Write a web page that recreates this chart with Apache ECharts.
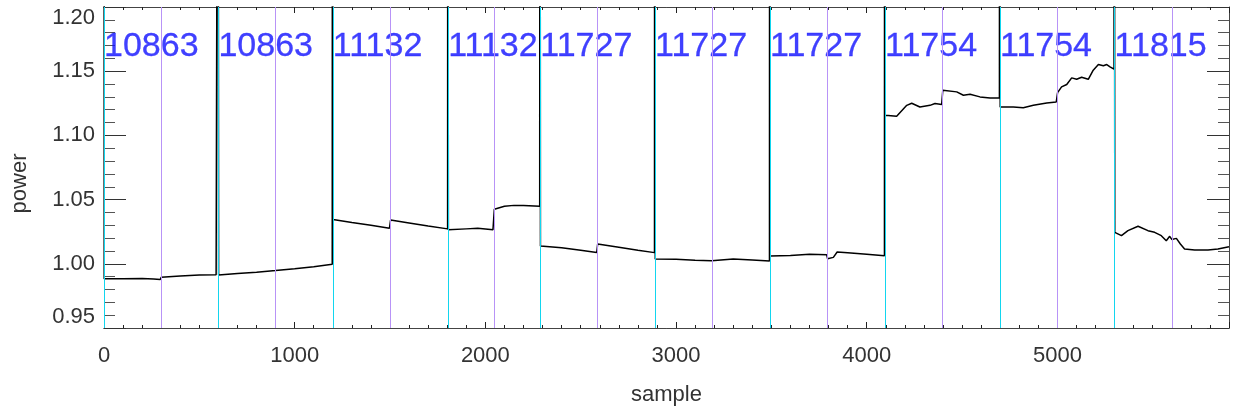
<!DOCTYPE html>
<html><head><meta charset="utf-8">
<script src="https://cdn.jsdelivr.net/npm/echarts@6/dist/echarts.min.js"></script>
<style>html,body{margin:0;padding:0;background:#fff}#c{width:1233px;height:415px}</style>
</head><body><div id="c"></div>
<script>
// off-scale value: the trace shoots above the plot at the start of each run
const OFF = 1.6;

const sampleIdx = [
  0, 1, 100, 200, 260, 295, 300, 400, 500, 588, 597,
  598, 601, 700, 800, 900, 1000, 1100, 1197,
  1198, 1201, 1300, 1400, 1497, 1503, 1600, 1700, 1802,
  1803, 1806, 1900, 1960, 2040, 2047, 2100, 2150, 2200, 2285,
  2286, 2289, 2400, 2500, 2584, 2589, 2700, 2800, 2887,
  2888, 2891, 3000, 3100, 3187, 3192, 3300, 3400, 3490,
  3491, 3494, 3600, 3700, 3790, 3795, 3825, 3845, 3900, 4000, 4093,
  4094, 4097, 4157, 4210, 4236, 4279, 4332, 4358, 4393, 4399, 4472, 4507, 4542, 4594, 4647, 4696,
  4697, 4700, 4769, 4821, 4874, 4944, 4994, 5001, 5022, 5049, 5075, 5101, 5127, 5162, 5188, 5215, 5241, 5259, 5276, 5297,
  5298, 5301, 5336, 5370, 5423, 5475, 5510, 5545, 5571, 5589, 5600, 5608, 5624, 5645, 5667, 5720, 5790, 5842, 5900
];
const powerVal = [
  OFF, 0.9884, 0.9884, 0.9886, 0.9882, 0.9877, 0.9896, 0.9905, 0.9912, 0.9915, 0.9907,
  OFF, 0.9912, 0.9924, 0.9935, 0.9948, 0.9962, 0.9977, 0.9996,
  OFF, 1.0345, 1.0322, 1.0300, 1.0277, 1.0341, 1.0318, 1.0295, 1.0272,
  OFF, 1.0266, 1.0272, 1.0276, 1.0266, 1.0425, 1.0448, 1.0455, 1.0455, 1.0448,
  OFF, 1.0138, 1.0125, 1.0105, 1.0088, 1.0154, 1.0128, 1.0105, 1.0087,
  OFF, 1.0038, 1.0035, 1.0028, 1.0023, 1.0030, 1.0037, 1.0030, 1.0021,
  OFF, 1.0060, 1.0065, 1.0075, 1.0070, 1.0039, 1.0050, 1.0092, 1.0086, 1.0075, 1.0062,
  OFF, 1.1156, 1.1150, 1.1234, 1.1250, 1.1221, 1.1234, 1.1248, 1.1240, 1.1352, 1.1339, 1.1313, 1.1320, 1.1300, 1.1292, 1.1292,
  OFF, 1.1221, 1.1221, 1.1216, 1.1234, 1.1253, 1.1260, 1.1333, 1.1378, 1.1396, 1.1448, 1.1437, 1.1453, 1.1437, 1.1508, 1.1552, 1.1542, 1.1552, 1.1534, 1.1516,
  OFF, 1.0245, 1.0219, 1.0258, 1.0292, 1.0258, 1.0245, 1.0219, 1.0180, 1.0214, 1.0190, 1.0205, 1.0198, 1.0154, 1.0115, 1.0107, 1.0107, 1.0115, 1.0133
];

// run boundaries (cyan), half-run markers (purple), run labels
const runStarts = [0, 600, 1200, 1805, 2288, 2890, 3493, 4096, 4699, 5300];
const halfMarks = [300, 900, 1503, 2047, 2589, 3192, 3793, 4398, 4999, 5603];
const runLabels = ['10863', '10863', '11132', '11132', '11727', '11727', '11727', '11754', '11754', '11815'];

const xTicks = { min: 0, max: 5900, major: 1000, minor: 100 };
const yTicks = { min: 0.95, max: 1.20, major: 0.05 };

const FONT = '"Liberation Sans", Arial, Helvetica, sans-serif';
const TXT = '#333';
const LABEL_Y = 1.1690;

const chart = echarts.init(document.getElementById('c'), null, { renderer: 'canvas' });

function xAx(pos, interval, tickLen, withLabels) {
  return {
    type: 'value', position: pos, min: xTicks.min, max: xTicks.max, interval: interval,
    axisLine: { show: true, onZero: false, lineStyle: { color: '#444', width: 1 } },
    axisTick: { show: true, inside: true, length: tickLen, lineStyle: { color: '#222', width: 1 } },
    axisLabel: withLabels ? {
      show: true, margin: 17, fontFamily: FONT, fontSize: 22, color: TXT,
      formatter: v => (v % xTicks.major === 0 ? String(v) : '')
    } : { show: false },
    splitLine: { show: false }
  };
}
function yAx(pos, withLabels) {
  return {
    type: 'value', position: pos, min: yTicks.min, max: yTicks.max, interval: yTicks.major,
    axisLine: { show: true, onZero: false, lineStyle: { color: '#444', width: 1 } },
    axisTick: { show: true, inside: true, length: 22, lineStyle: { color: '#333', width: 1 } },
    minorTick: { show: true, splitNumber: 5, length: 11, lineStyle: { color: '#555', width: 1 } },
    splitLine: { show: false },
    axisLabel: withLabels ? {
      show: true, margin: 9, fontFamily: FONT, fontSize: 22, color: TXT,
      formatter: v => v.toFixed(2),
      verticalAlignMinLabel: 'bottom', verticalAlignMaxLabel: 'top'
    } : { show: false }
  };
}

const xa0 = xAx('bottom', xTicks.major, 6, true);
xa0.name = 'sample';
xa0.nameLocation = 'middle';
xa0.nameGap = 56;
xa0.nameTextStyle = { fontFamily: FONT, fontSize: 22, color: TXT };

const ya0 = yAx('left', true);
ya0.name = 'power';
ya0.nameLocation = 'middle';
ya0.nameGap = 73;
ya0.nameTextStyle = { fontFamily: FONT, fontSize: 22, color: TXT, padding: [0, 32, 0, 0] };

const lineData = sampleIdx.map((s, i) => [s, powerVal[i]]);

const option = {
  animation: false,
  backgroundColor: '#fff',
  grid: { left: 104, right: 4, top: 7, bottom: 87, containLabel: false },
  xAxis: [xa0, xAx('top', xTicks.major, 6, false), xAx('bottom', xTicks.minor, 3, false), xAx('top', xTicks.minor, 3, false)],
  yAxis: [ya0, yAx('right', false)],
  series: [
    {
      type: 'scatter', xAxisIndex: 0, yAxisIndex: 0, z: 1, silent: true,
      symbolSize: 0,
      data: runStarts.map(s => [s, LABEL_Y]),
      label: {
        show: true, position: 'right', distance: 0,
        formatter: p => runLabels[p.dataIndex],
        fontFamily: FONT, fontSize: 34, color: '#1010ff', verticalAlign: 'middle',
        textBorderColor: '#1010ff', textBorderWidth: 0.3
      }
    },
    {
      type: 'line', xAxisIndex: 0, yAxisIndex: 0, z: 2, data: [], silent: true,
      markLine: {
        silent: true, symbol: ['none', 'none'], label: { show: false }, animation: false,
        lineStyle: { type: 'solid', width: 1, color: '#b893f7' },
        data: halfMarks.map(v => ({ xAxis: v }))
      }
    },
    {
      type: 'line', xAxisIndex: 0, yAxisIndex: 0, z: 4, silent: true,
      showSymbol: false, symbol: 'none', clip: true,
      lineStyle: { color: '#000', width: 1.5 },
      data: lineData
    },
    {
      type: 'line', xAxisIndex: 0, yAxisIndex: 0, z: 5, data: [], silent: true,
      markLine: {
        silent: true, symbol: ['none', 'none'], label: { show: false }, animation: false,
        lineStyle: { type: 'solid', width: 1, color: '#12d6ef' },
        data: runStarts.map(v => ({ xAxis: v }))
      }
    }
  ]
};
chart.setOption(option);
</script></body></html>
